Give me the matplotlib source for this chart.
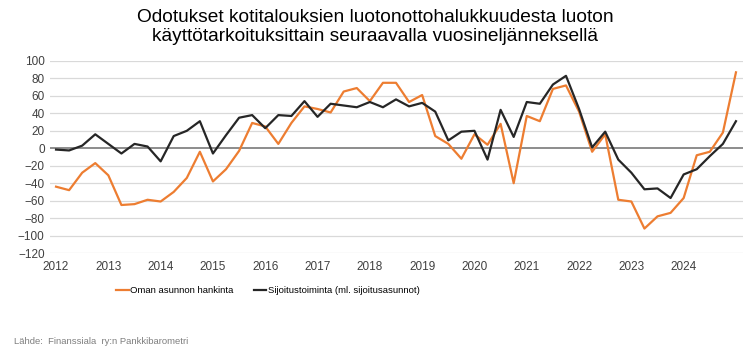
import matplotlib.pyplot as plt

plt.rcParams['font.family'] = ['Liberation Sans', 'DejaVu Sans']

# neljännesvuodet 2012Q1 - 2025Q1
vuodet = ['2012', '2013', '2014', '2015', '2016', '2017', '2018', '2019',
          '2020', '2021', '2022', '2023', '2024']

oma_asunto = [-44, -48, -28, -17, -31, -65, -64, -59, -61, -50, -34, -4,
              -38, -24, -3, 29, 25, 5, 29, 48, 45, 41, 65, 69,
              54, 75, 75, 53, 61, 14, 5, -12, 16, 4, 28, -40,
              37, 31, 68, 72, 42, -4, 16, -59, -61, -92, -78, -74,
              -57, -8, -4, 18, 87]

sijoitus = [-1.5, -2.5, 3, 16, 5, -6, 5, 2, -15, 14, 20, 31,
            -6, 15, 35, 38, 23, 38, 37, 54, 36, 51, 49, 47,
            53, 47, 56, 48, 52, 42, 9, 19, 20, -13, 44, 13,
            53, 51, 73, 83, 45, 1, 19, -13, -28, -47, -46, -57,
            -30, -24, -9, 5, 31]

x = list(range(len(oma_asunto)))

fig = plt.figure(figsize=(7.5, 3.56), dpi=100)
ax = fig.add_axes([0.066, 0.2893, 0.924, 0.5394])

for y in range(-120, 101, 20):
    if y != 0:
        ax.axhline(y, color='#d9d9d9', lw=0.9, zorder=0)
ax.axhline(0, color='#8c8c8c', lw=1.4, zorder=1)

ax.plot(x, oma_asunto, color='#ed7d31', lw=1.6, label='Oman asunnon hankinta', zorder=3)
ax.plot(x, sijoitus, color='#262626', lw=1.6, label='Sijoitustoiminta (ml. sijoitusasunnot)', zorder=4)

ax.set_xlim(-0.5, 52.5)
ax.set_ylim(-120, 100)
ax.set_yticks(range(-120, 101, 20))
ax.set_xticks(range(0, 49, 4))
ax.set_xticklabels(vuodet)
ax.tick_params(length=0, labelsize=8.5, colors='#404040')
ax.tick_params(axis='x', pad=6)
for s in ax.spines.values():
    s.set_visible(False)

fig.text(0.5, 0.924, 'Odotukset kotitalouksien luotonottohalukkuudesta luoton\n'
         'käyttötarkoituksittain seuraavalla vuosineljänneksellä',
         ha='center', va='center', fontsize=13.75, linespacing=1.2)

fig.legend(loc='center', bbox_to_anchor=(268 / 750, 1 - 290.5 / 356), ncol=2,
           frameon=False, fontsize=6.8, handlelength=1.3, handletextpad=0.2,
           columnspacing=2.1)

fig.text(14 / 750, 1 - 341 / 356, 'Lähde:  Finanssiala  ry:n Pankkibarometri',
         fontsize=6.8, color='#7f7f7f', va='center')

fig.savefig('out.png', dpi=100)
